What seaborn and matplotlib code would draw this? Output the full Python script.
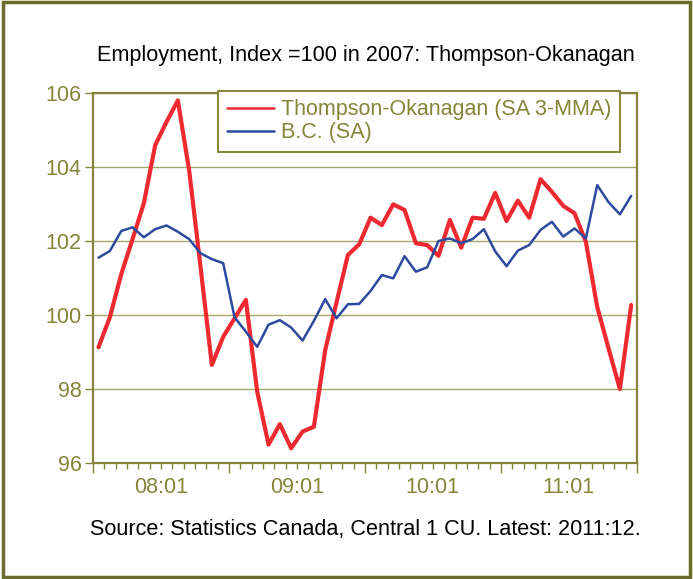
import matplotlib
matplotlib.use("Agg")
import matplotlib.pyplot as plt
import matplotlib.patches as patches
import numpy as np
import pandas as pd
import seaborn as sns

# monthly data 2008:01 .. 2011:12
months = pd.period_range("2008-01", "2011-12", freq="M").strftime("%y:%m").tolist()

thompson = [99.13, 99.94, 101.1, 102.05, 103.02, 104.59, 105.22, 105.8, 103.9, 101.3,
            98.65, 99.41, 99.91, 100.41, 97.93, 96.5, 97.05, 96.4, 96.85, 96.98,
            99.05, 100.34, 101.62, 101.91, 102.63, 102.43, 102.99, 102.84, 101.94, 101.89,
            101.6, 102.57, 101.82, 102.63, 102.6, 103.3, 102.54, 103.09, 102.63, 103.67,
            103.33, 102.95, 102.75, 101.98, 100.22, 99.1, 98.0, 100.27]

bc = [101.55, 101.73, 102.27, 102.37, 102.1, 102.32, 102.42, 102.25, 102.05, 101.67,
      101.51, 101.4, 99.94, 99.55, 99.14, 99.74, 99.86, 99.66, 99.31, 99.84,
      100.43, 99.91, 100.29, 100.3, 100.65, 101.08, 100.99, 101.59, 101.17, 101.29,
      102.0, 102.07, 101.94, 102.05, 102.32, 101.72, 101.32, 101.74, 101.89, 102.3,
      102.52, 102.12, 102.34, 102.07, 103.51, 103.05, 102.72, 103.22]

year_labels = ["08:01", "09:01", "10:01", "11:01"]

df = pd.DataFrame({"idx": np.arange(len(months)), "month": months,
                   "thompson": thompson, "bc": bc})

olive = "#85853a"
olive_grid = "#a8a868"
red = "#ee2a30"
blue = "#2e4a9e"

sns.set_theme(style="white")
plt.rcParams["font.family"] = ["Liberation Sans", "DejaVu Sans"]

fig = plt.figure(figsize=(6.93, 5.79), dpi=100)
ax = fig.add_axes([0.134, 0.2003, 0.785, 0.6391])

sns.lineplot(data=df, x="idx", y="thompson", ax=ax, color=red, linewidth=3.0,
             label="Thompson-Okanagan (SA 3-MMA)")
sns.lineplot(data=df, x="idx", y="bc", ax=ax, color=blue, linewidth=1.8,
             label="B.C. (SA)")

ax.set_xlim(-0.5, len(months) - 0.5)
ax.set_ylim(96, 106)
ax.set_yticks([96, 98, 100, 102, 104, 106])
ax.yaxis.grid(True, color=olive_grid, linewidth=1.0)
ax.set_axisbelow(True)

# year blocks: ticks on month boundaries, label centred in each 12 month block
ax.set_xticks(np.arange(-0.5, len(months), 12))
ax.set_xticklabels([])
ax.set_xticks(np.arange(-0.5, len(months), 1), minor=True)
for i, lab in enumerate(year_labels):
    ax.text(5.5 + 12 * i, -0.038, lab, transform=ax.get_xaxis_transform(),
            ha="center", va="top", fontsize=15.5, color=olive)

ax.tick_params(axis="x", which="major", direction="out", length=7, width=1, color=olive, bottom=True)
ax.tick_params(axis="x", which="minor", direction="out", length=4, width=1, color=olive, bottom=True)
ax.tick_params(axis="y", direction="out", length=6, width=1, color=olive, left=True,
               labelsize=15.5, labelcolor=olive, pad=2)
ax.set_xlabel("")
ax.set_ylabel("")
for s in ax.spines.values():
    s.set_color(olive)
    s.set_linewidth(1.6)

leg = ax.legend(loc="upper right", bbox_to_anchor=(0.969, 1.005), borderaxespad=0,
                fontsize=15.5, frameon=True, fancybox=False, framealpha=1, edgecolor=olive,
                handlelength=2.2, borderpad=0.38, labelspacing=0.1, handletextpad=0.35)
leg.get_frame().set_linewidth(1.4)
for t in leg.get_texts():
    t.set_color(olive)
for h in leg.legend_handles:
    h.set_linewidth(1.8)

fig.text(0.528, 0.905, "Employment, Index =100 in 2007: Thompson-Okanagan",
         ha="center", va="center", fontsize=15.6, color="black")
fig.text(0.527, 0.085, "Source: Statistics Canada, Central 1 CU. Latest: 2011:12.",
         ha="center", va="center", fontsize=15.6, color="black")

fig.patches.append(patches.Rectangle((0.004, 0.004), 0.992, 0.992, transform=fig.transFigure,
                                     fill=False, edgecolor="#6b6b2c", linewidth=2.5))

fig.savefig("out.png", dpi=100)
